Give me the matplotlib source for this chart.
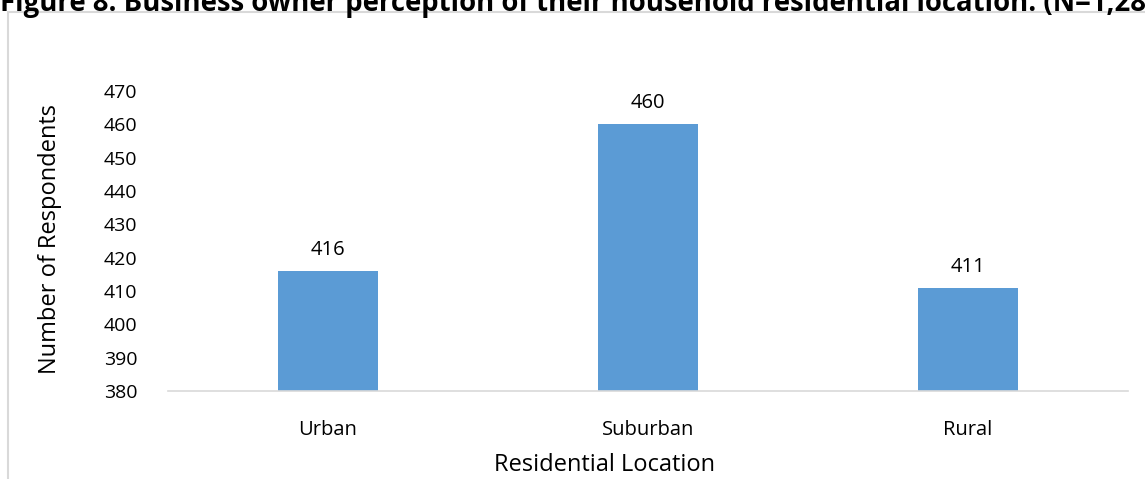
import matplotlib.pyplot as plt
from matplotlib.patches import Rectangle

# Datos
categorias = ["Urban", "Suburban", "Rural"]
valores = [416, 460, 411]
ticks_y = [380, 390, 400, 410, 420, 430, 440, 450, 460, 470]

W, H = 1145, 479
plt.rcParams['font.family'] = ['Open Sans', 'DejaVu Sans']

fig = plt.figure(figsize=(W / 100, H / 100), dpi=100)

# Marco gris del gráfico (se sale por la derecha y abajo)
fig.patches.append(Rectangle((8 / W, -0.1), 1.2, 1 - 12.5 / H + 0.1,
                             transform=fig.transFigure, fill=False,
                             edgecolor="#d9d9d9", linewidth=1.5))

# Título cortado arriba (igual que en el original)
fig.text(0, 1 - 11 / H,
         "Figure 8: Business owner perception of their household residential location. (N=1,287)",
         fontsize=19.8, fontweight="bold", ha="left", va="baseline", color="black")

ax = fig.add_axes([168 / W, 1 - 391 / H, (1128 - 168) / W, (391 - 91) / H])
x = range(len(categorias))
ax.bar(x, valores, width=0.3125, color="#5b9bd5")
for xi, v in zip(x, valores):
    ax.text(xi, v + 4.8, str(v), ha="center", va="baseline", fontsize=14.5)

ax.set_xlim(-0.5, len(categorias) - 0.5)
ax.set_ylim(380, 470)
ax.set_yticks(ticks_y)
ax.set_xticks(list(x))
ax.set_xticklabels(categorias)
ax.tick_params(axis="both", length=0)
ax.tick_params(axis="x", pad=21, labelsize=14.5)
ax.tick_params(axis="y", pad=22, labelsize=14)

for lado in ["top", "right", "left"]:
    ax.spines[lado].set_visible(False)
ax.spines["bottom"].set_color("#d9d9d9")
ax.spines["bottom"].set_linewidth(1.2)

# Títulos de ejes
fig.text(50 / W, 1 - 239 / H, "Number of Respondents", rotation=90,
         ha="center", va="center", fontsize=17)
fig.text(604 / W, 1 - 465 / H, "Residential Location",
         ha="center", va="center", fontsize=17)

plt.savefig("out.png", dpi=100)
plt.close(fig)
